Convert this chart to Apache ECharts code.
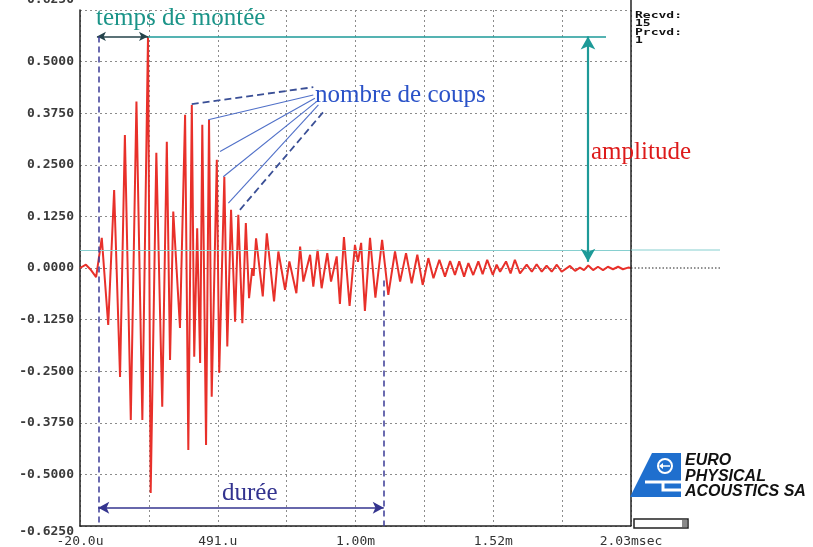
<!DOCTYPE html>
<html><head><meta charset="utf-8">
<script src="https://cdn.jsdelivr.net/npm/echarts@6/dist/echarts.min.js"></script>
<style>html,body{margin:0;padding:0;background:#fff}#c{width:813px;height:547px}</style>
</head><body><div id="c"></div>
<script>
// ---- data (time in µs, amplitude in V) ----
const waveT = [-20, 2, 21, 40, 61, 85, 107, 129, 147, 169,
  190, 212, 233, 243, 264, 286, 303, 315, 327, 352,
  371, 383, 396, 405, 416, 427, 435, 449, 460, 470,
  489, 498, 517, 528, 542, 557, 569, 584, 597, 609,
  621, 626, 635, 660, 675, 702, 718, 743, 759, 785,
  799, 811, 836, 848, 864, 879, 900, 914, 935, 947,
  962, 983, 1003, 1014, 1026, 1040, 1059, 1079, 1104, 1127,
  1152, 1171, 1193, 1214, 1235, 1255, 1276, 1295, 1317, 1338,
  1357, 1375, 1391, 1409, 1425, 1443, 1462, 1478, 1495, 1516,
  1530, 1543, 1565, 1582, 1598, 1617, 1642, 1661, 1679, 1698,
  1716, 1735, 1754, 1772, 1803, 1822, 1840, 1855, 1871, 1889,
  1907, 1926, 1944, 1963, 1982, 2000, 2019, 2030];
const waveV = [0.000, 0.008, -0.005, -0.022, 0.073, -0.138, 0.189, -0.264, 0.322, -0.368,
  0.403, -0.368, 0.561, -0.545, 0.279, -0.336, 0.306, -0.223, 0.137, -0.145,
  0.371, -0.441, 0.395, -0.215, 0.096, -0.230, 0.347, -0.429, 0.359, -0.312,
  0.262, -0.254, 0.221, -0.190, 0.141, -0.130, 0.129, -0.134, 0.109, -0.073,
  0.000, -0.019, 0.072, -0.069, 0.084, -0.081, 0.040, -0.053, 0.016, -0.061,
  0.052, -0.033, 0.032, -0.045, 0.044, -0.049, 0.036, -0.033, 0.028, -0.087,
  0.075, -0.092, 0.056, 0.015, 0.061, -0.104, 0.073, -0.072, 0.068, -0.065,
  0.040, -0.033, 0.036, -0.037, 0.032, -0.041, 0.024, -0.025, 0.020, -0.021,
  0.017, -0.017, 0.016, -0.021, 0.012, -0.017, 0.016, -0.015, 0.020, -0.017,
  0.008, -0.009, 0.016, -0.013, 0.020, -0.013, 0.008, -0.009, 0.009, -0.009,
  0.006, -0.009, 0.008, -0.009, 0.005, -0.007, 0.001, -0.005, 0.006, -0.005,
  0.003, -0.005, 0.003, -0.003, 0.003, -0.003, 0.001, 0.000];

const yMin = -0.625, yMax = 0.625, yStep = 0.125;
const xMin = -20, xMax = 2030;
const xGridValues = [-20, 236.25, 492.5, 748.75, 1005, 1261.25, 1517.5, 1773.75, 2030];
const xLabelValues = [-20, 492.5, 1005, 1517.5, 2030];
const xLabelTexts = ['-20.0u', '491.u', '1.00m', '1.52m', '2.03msec'];
const statusLines = ['Recvd:', '15', 'Prcvd:', '1'];
const logoLines = ['EURO', 'PHYSICAL', 'ACOUSTICS SA'];

// annotation anchors (data units)
const amplitudeLevel = 0.561;
const thresholdLevel = 0.0436;
const riseStart = 43, riseEnd = 233;
const ampLineEnd = 1937, ampArrowT = 1870, ampArrowLow = 0.015;
const durStart = 48, durEnd = 1110, durLevel = -0.581, durRightTop = -0.03;
// [t1, v1, t2, v2, dashed]
const fanLines = [
  [395.6, 0.397, 848, 0.438, true],
  [457, 0.359, 848, 0.419, false],
  [501, 0.282, 854, 0.411, false],
  [513, 0.221, 860, 0.403, false],
  [532, 0.157, 867, 0.395, false],
  [575, 0.141, 892, 0.383, true]
];

const chart = echarts.init(document.getElementById('c'), null, {renderer: 'canvas'});
const monoFont = '"DejaVu Sans Mono", monospace';
const serif = '"Liberation Serif", "DejaVu Serif", serif';

function seg(a, b, style, symA, symB, size) {
  const p = {coord: a, lineStyle: style};
  const q = {coord: b};
  if (symA) { p.symbol = symA; p.symbolSize = size; }
  else p.symbol = 'none';
  if (symB) { q.symbol = symB; q.symbolSize = size; }
  else q.symbol = 'none';
  return [p, q];
}
const teal = '#1d9a98';
const navy = '#35358f';
const markData = [
  seg([xMin, thresholdLevel], [xMax, thresholdLevel], {color: '#86cfcf', width: 1, type: 'solid'}),
  seg([riseEnd, amplitudeLevel], [ampLineEnd, amplitudeLevel], {color: teal, width: 1.6, type: 'solid'}),
  seg([riseStart, amplitudeLevel], [riseEnd, amplitudeLevel], {color: '#24434a', width: 1.6, type: 'solid'}, 'arrow', 'arrow', [7, 9]),
  seg([ampArrowT, amplitudeLevel], [ampArrowT, ampArrowLow], {color: teal, width: 2.2, type: 'solid'}, 'arrow', 'arrow', [11, 13]),
  seg([durStart, amplitudeLevel], [durStart, yMin], {color: '#3b3b96', width: 1.5, type: [6, 4]}),
  seg([durEnd, durRightTop], [durEnd, yMin], {color: '#3b3b96', width: 1.5, type: [6, 4]}),
  seg([durStart, durLevel], [durEnd, durLevel], {color: navy, width: 1.6, type: 'solid'}, 'arrow', 'arrow', [9, 11])
];
fanLines.forEach(f => {
  markData.push(seg([f[0], f[1]], [f[2], f[3]],
    f[4] ? {color: '#3a4f96', width: 1.8, type: [7, 4]} : {color: '#5070c8', width: 1.1, type: 'solid'}));
});

chart.setOption({
  animation: false,
  backgroundColor: '#ffffff',
  grid: {left: 80, top: 10, width: 551, height: 516, outerBoundsMode: 'none', containLabel: false},
  xAxis: {
    type: 'value', min: xMin, max: xMax,
    axisLine: {show: true, onZero: false, lineStyle: {color: '#222', width: 1.5}},
    axisTick: {show: false, customValues: xGridValues},
    splitLine: {show: true, lineStyle: {color: '#8c8c8c', width: 1, type: [2, 3]}},
    axisLabel: {
      customValues: xLabelValues, margin: 9,
      fontFamily: monoFont, fontSize: 13, color: '#333',
      formatter: v => {
        const i = xLabelValues.findIndex(x => Math.abs(x - v) < 1e-6);
        return i >= 0 ? xLabelTexts[i] : '';
      }
    }
  },
  yAxis: {
    type: 'value', min: yMin, max: yMax, interval: yStep,
    axisLine: {show: true, onZero: false, lineStyle: {color: '#222', width: 1.5}},
    axisTick: {show: false},
    splitLine: {show: true, lineStyle: {color: '#8c8c8c', width: 1, type: [2, 3]}},
    axisLabel: {
      margin: 6, fontFamily: monoFont, fontSize: 13, fontWeight: 'bold', color: '#3a3a3a',
      formatter: v => {
        const s = v.toFixed(4);
        if (v >= yMax - 1e-9) return '{top|' + s + '}';
        if (v <= yMin + 1e-9) return '{bot|' + s + '}';
        return s;
      },
      rich: {
        top: {padding: [0, 0, 20, 0], fontFamily: monoFont, fontSize: 13, fontWeight: 'bold', color: '#3a3a3a'},
        bot: {padding: [12, 0, 0, 0], fontFamily: monoFont, fontSize: 13, fontWeight: 'bold', color: '#3a3a3a'}
      }
    }
  },
  series: [
    {
      type: 'line', name: 'signal',
      data: waveT.map((t, i) => [t, waveV[i]]),
      showSymbol: false, symbol: 'none', z: 3,
      lineStyle: {color: '#e8302a', width: 2}
    },
    {
      type: 'line', data: [], z: 4,
      markLine: {silent: true, animation: false, label: {show: false}, data: markData}
    }
  ]
});

// ---- graphic overlays ----
const pR0 = chart.convertToPixel({gridIndex: 0}, [xMax, 0]);
const pRT = chart.convertToPixel({gridIndex: 0}, [xMax, thresholdLevel]);
const pBot = chart.convertToPixel({gridIndex: 0}, [xMax, yMin]);
const ext = 89;

function txt(text, x, y, font, fill, extra) {
  return Object.assign({type: 'text', x: x, y: y, z: 100,
    style: {text: text, font: font, fill: fill, textAlign: 'left', textVerticalAlign: 'middle'}}, extra || {});
}
const g = [];
// right border of the plot frame
g.push({type: 'line', z: 50, shape: {x1: pR0[0], y1: 0, x2: pR0[0], y2: pBot[1]}, style: {stroke: '#222', lineWidth: 1.5}});
// zero line extension & threshold extension beyond the plot
g.push({type: 'line', z: 50, shape: {x1: pR0[0], y1: pR0[1], x2: pR0[0] + ext, y2: pR0[1]}, style: {stroke: '#222', lineWidth: 1, lineDash: [1.5, 2]}});
g.push({type: 'line', z: 50, shape: {x1: pRT[0], y1: pRT[1], x2: pRT[0] + ext, y2: pRT[1]}, style: {stroke: '#86cfcf', lineWidth: 1}});

// annotation texts
g.push(txt('temps de montée', 96, 18, '25px ' + serif, '#1b9488'));
g.push(txt('nombre de coups', 315, 95, '25px ' + serif, '#2a52c8'));
g.push(txt('amplitude', 591, 152, '25px ' + serif, '#dd1a1a'));
g.push(txt('durée', 222, 493, '25px ' + serif, '#33338f'));

// status text
const statusY = [16, 24, 32.5, 41];
statusLines.forEach((s, i) => g.push(txt(s, 635, statusY[i], 'bold 13px ' + monoFont, '#111', {scaleY: 0.68})));

// logo
const blue = '#1f6fce';
g.push({type: 'polygon', z: 60, shape: {points: [[652, 453], [681, 453], [681, 497], [630, 497]]}, style: {fill: blue}});
g.push({type: 'circle', z: 61, shape: {cx: 665, cy: 466, r: 7}, style: {fill: blue, stroke: '#fff', lineWidth: 2}});
g.push({type: 'polyline', z: 62, shape: {points: [[661, 466], [670, 466]]}, style: {stroke: '#fff', lineWidth: 1.5}});
g.push({type: 'polygon', z: 62, shape: {points: [[659, 466], [663, 463], [663, 469]]}, style: {fill: '#fff'}});
g.push({type: 'polyline', z: 62, shape: {points: [[645, 482], [681, 482]]}, style: {stroke: '#fff', lineWidth: 3}});
g.push({type: 'polyline', z: 62, shape: {points: [[663, 482], [663, 490], [681, 490]]}, style: {stroke: '#fff', lineWidth: 3}});
const logoY = [461, 477, 492];
logoLines.forEach((s, i) => g.push(txt(s, 685, logoY[i], 'italic bold 16px "Liberation Sans", Arial, sans-serif', '#111')));

// scrollbar widget
g.push({type: 'rect', z: 60, shape: {x: 634, y: 519, width: 54, height: 9}, style: {fill: '#fff', stroke: '#222', lineWidth: 1.5}});
g.push({type: 'rect', z: 61, shape: {x: 682, y: 520, width: 5, height: 7}, style: {fill: '#8a8a8a'}});

chart.setOption({graphic: g});
</script>
</body></html>
